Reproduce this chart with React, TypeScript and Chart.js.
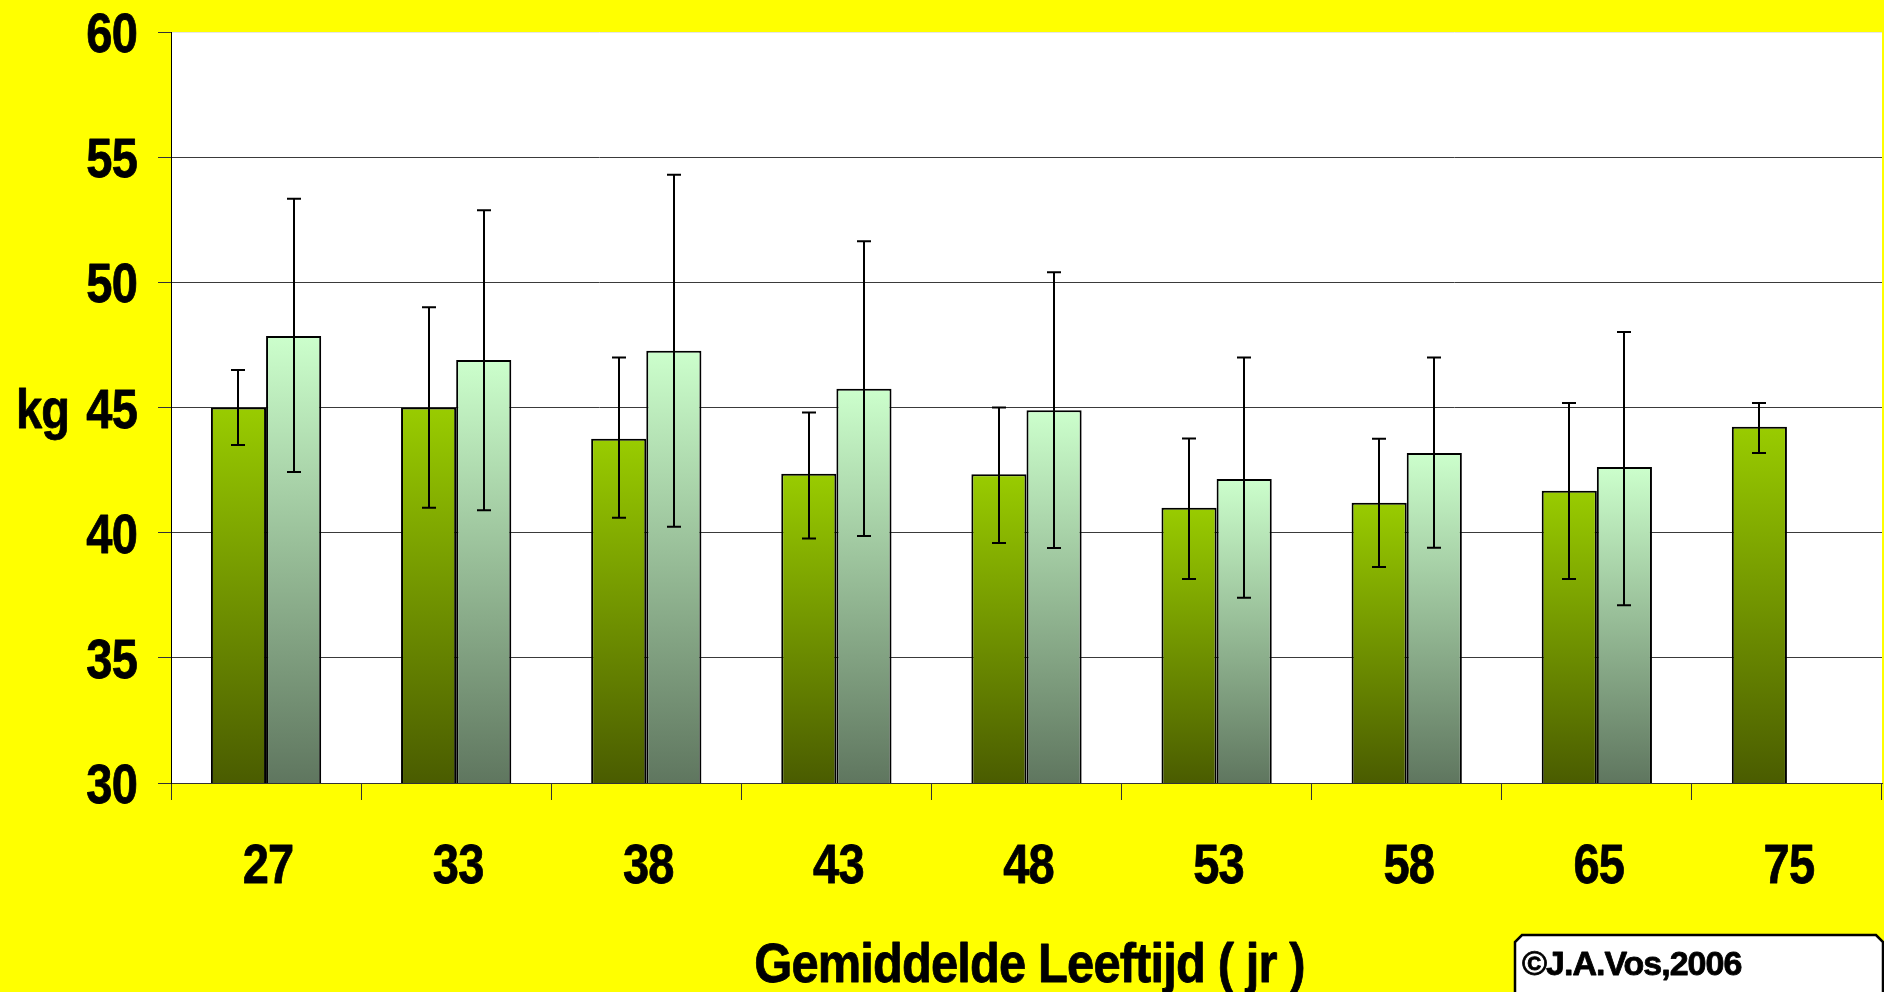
import { useEffect, useRef } from 'react';
import { Chart, registerables } from 'chart.js';

Chart.register(...registerables);

// ---------- data ----------
const ages = ['27', '33', '38', '43', '48', '53', '58', '65', '75'];

const greenValues = [45.0, 45.0, 43.75, 42.35, 42.33, 41.0, 41.2, 41.67, 44.23];
const greenLow = [43.5, 41.0, 40.6, 39.77, 39.59, 38.15, 38.63, 38.15, 43.18];
const greenHigh = [46.5, 49.0, 47.0, 44.8, 45.0, 43.76, 43.75, 45.18, 45.18];

const lightValues = [47.86, 46.9, 47.27, 45.75, 44.89, 42.14, 43.18, 42.62, null];
const lightLow = [42.42, 40.9, 40.24, 39.87, 39.39, 37.4, 39.4, 37.1, null];
const lightHigh = [53.34, 52.88, 54.3, 51.64, 50.4, 47.0, 47.0, 48.02, null];

const yMin = 30;
const yMax = 60;
const yStep = 5;

const xTitle = 'Gemiddelde Leeftijd ( jr )';
const yTitle = 'kg';
const copyright = '©J.A.Vos,2006';

// ---------- styles ----------
const FONT = '"Liberation Sans", Arial, Helvetica, sans-serif';
const BIG = `bold 56px ${FONT}`;
const SX = 0.84;

function gradientFor(top: string, bottom: string) {
  return (c: any) => {
    const chart = c.chart;
    if (c.type !== 'data' || c.raw == null || !chart.chartArea) return top;
    const ys = chart.scales.y;
    const t = ys.getPixelForValue(c.raw);
    const b = ys.getPixelForValue(yMin);
    const g = chart.ctx.createLinearGradient(0, t, 0, b);
    g.addColorStop(0, top);
    g.addColorStop(1, bottom);
    return g;
  };
}

function drawText(
  ctx: CanvasRenderingContext2D,
  text: string,
  x: number,
  y: number,
  align: CanvasTextAlign,
  font: string,
  sx: number,
  spacing = '0px',
  weight = 0.8,
) {
  ctx.save();
  ctx.translate(x, y);
  ctx.scale(sx, 1);
  ctx.font = font;
  (ctx as any).letterSpacing = spacing;
  ctx.fillStyle = '#000';
  ctx.strokeStyle = '#000';
  ctx.lineWidth = weight;
  ctx.lineJoin = 'round';
  ctx.textAlign = align;
  ctx.textBaseline = 'alphabetic';
  ctx.fillText(text, 0, 0);
  if (weight > 0) ctx.strokeText(text, 0, 0);
  ctx.restore();
}

const backgroundPlugin = {
  id: 'bg',
  beforeDraw(chart: any) {
    const { ctx, chartArea, width, height } = chart;
    ctx.save();
    ctx.fillStyle = '#FFFF00';
    ctx.fillRect(0, 0, width, height);
    ctx.fillStyle = '#FFFFFF';
    ctx.fillRect(chartArea.left, chartArea.top, chartArea.right - chartArea.left, chartArea.bottom - chartArea.top);
    ctx.restore();
  },
};

const errorBarPlugin = {
  id: 'errbars',
  afterDatasetsDraw(chart: any) {
    const { ctx } = chart;
    const ys = chart.scales.y;
    const lows = [greenLow, lightLow];
    const highs = [greenHigh, lightHigh];
    ctx.save();
    ctx.strokeStyle = '#000';
    ctx.lineWidth = 2;
    chart.data.datasets.forEach((_: any, di: number) => {
      const meta = chart.getDatasetMeta(di);
      meta.data.forEach((el: any, i: number) => {
        const lo = lows[di][i];
        const hi = highs[di][i];
        if (lo == null || hi == null) return;
        const x = Math.round(el.x);
        const y1 = ys.getPixelForValue(hi);
        const y2 = ys.getPixelForValue(lo);
        ctx.beginPath();
        ctx.moveTo(x, y1);
        ctx.lineTo(x, y2);
        ctx.moveTo(x - 7, y1);
        ctx.lineTo(x + 7, y1);
        ctx.moveTo(x - 7, y2);
        ctx.lineTo(x + 7, y2);
        ctx.stroke();
      });
    });
    ctx.restore();
  },
};

const textPlugin = {
  id: 'texts',
  afterDraw(chart: any) {
    const { ctx, chartArea } = chart;
    const ys = chart.scales.y;
    const xs = chart.scales.x;
    // y tick labels
    ys.ticks.forEach((t: any) => {
      const py = ys.getPixelForValue(t.value);
      drawText(ctx, String(t.value), 137, py + 20, 'right', BIG, SX, '-1px');
    });
    // x tick labels
    ages.forEach((a, i) => {
      const px = xs.getPixelForValue(i);
      drawText(ctx, a, px + 2, 883, 'center', BIG, SX, '-1px');
    });
    // y title
    drawText(ctx, yTitle, 16, ys.getPixelForValue(45) + 20, 'left', BIG, SX, '-1px');
    // x title
    drawText(ctx, xTitle, (chartArea.left + chartArea.right) / 2 + 3, 982, 'center', BIG, 0.873, '-1px');
    // copyright box
    ctx.save();
    ctx.beginPath();
    ctx.moveTo(1515, 1000);
    ctx.lineTo(1515, 942);
    ctx.lineTo(1522, 935);
    ctx.lineTo(1876, 935);
    ctx.lineTo(1883, 942);
    ctx.lineTo(1883, 1000);
    ctx.closePath();
    ctx.fillStyle = '#FFFFFF';
    ctx.fill();
    ctx.strokeStyle = '#000';
    ctx.lineWidth = 2.5;
    ctx.stroke();
    ctx.restore();
    drawText(ctx, copyright, 1522, 975, 'left', `bold 34px ${FONT}`, 1.0, '-1px', 0.8);
  },
};

export default function App() {
  const ref = useRef<HTMLCanvasElement>(null);

  useEffect(() => {
    const tickVals: number[] = [];
    for (let v = yMin; v <= yMax; v += yStep) tickVals.push(v);

    const chart = new Chart(ref.current as HTMLCanvasElement, {
      type: 'bar',
      data: {
        labels: ages,
        datasets: [
          {
            label: 'A',
            data: greenValues,
            backgroundColor: gradientFor('#99CC00', '#4A5C00') as any,
            borderColor: '#000000',
            borderWidth: 2,
            categoryPercentage: 0.58,
            barPercentage: 1.0,
          },
          {
            label: 'B',
            data: lightValues as any,
            backgroundColor: gradientFor('#CCFFCC', '#5F765F') as any,
            borderColor: '#000000',
            borderWidth: 2,
            categoryPercentage: 0.58,
            barPercentage: 1.0,
          },
        ],
      },
      options: {
        responsive: false,
        animation: false,
        devicePixelRatio: 1,
        layout: { padding: { top: 32, left: 0, right: 2, bottom: 0 } },
        plugins: {
          legend: { display: false },
          tooltip: { enabled: false },
        },
        scales: {
          x: {
            offset: true,
            ticks: { display: false },
            grid: {
              offset: true,
              drawOnChartArea: false,
              drawTicks: true,
              tickLength: 17,
              color: '#333333',
              tickColor: '#333333',
            },
            border: { display: true, color: '#333333', width: 1 },
            afterFit: (s: any) => {
              s.height = 209;
            },
          },
          y: {
            min: yMin,
            max: yMax,
            afterBuildTicks: (s: any) => {
              s.ticks = tickVals.map((v) => ({ value: v }));
            },
            ticks: { display: false, stepSize: yStep },
            grid: {
              drawTicks: true,
              tickLength: 13,
              color: (c: any) => (c.tick && c.tick.value === yMax ? '#E6E6E6' : '#3A3A3A'),
              tickColor: '#333333',
              lineWidth: 1,
            },
            border: { display: true, color: '#000000', width: 1 },
            afterFit: (s: any) => {
              s.width = 171;
            },
          },
        },
      },
      plugins: [backgroundPlugin, errorBarPlugin, textPlugin],
    });
    return () => chart.destroy();
  }, []);

  return (
    <div style={{ position: 'fixed', left: 0, top: 0, width: 1884, height: 992, background: '#FFFF00' }}>
      <canvas ref={ref} width={1884} height={992} style={{ display: 'block', width: 1884, height: 992 }} />
    </div>
  );
}
